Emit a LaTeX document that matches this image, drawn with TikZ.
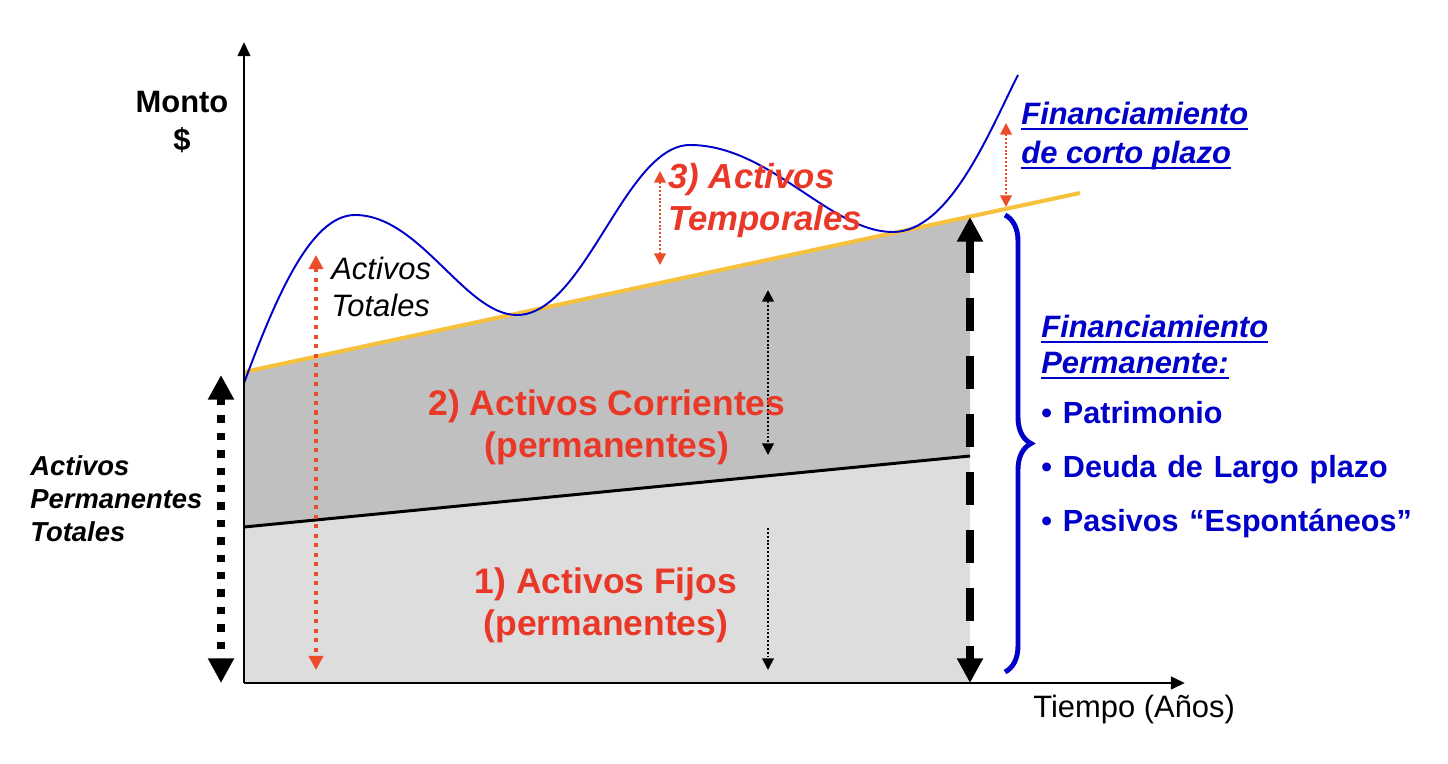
\documentclass[tikz,border=0pt]{standalone}
\usepackage{fontspec}
\setmainfont{Liberation Sans}
\usetikzlibrary{arrows.meta,decorations.pathreplacing}
\definecolor{grisosc}{RGB}{192,192,192}
\definecolor{grisclaro}{RGB}{221,221,221}
\definecolor{amarillo}{RGB}{247,192,61}
\definecolor{azul}{RGB}{0,0,200}
\definecolor{rojotxt}{RGB}{234,56,40}
\definecolor{rojoflecha}{RGB}{234,76,44}
\newcommand{\subr}[1]{\setbox0\hbox{#1}\rlap{\rule[-3.2pt]{\wd0}{1.3pt}}\box0}
\newcommand{\espacio}{\spaceskip=6.2pt plus 1pt\relax}
\begin{document}
\begin{tikzpicture}[x=0.02cm,y=-0.02cm,
  eje/.style={line width=1.7pt,-{Triangle[width=7pt,length=8pt]}},
  gruesa/.style={line width=4.3pt,{Triangle[width=14pt,length=14pt]}-{Triangle[width=14pt,length=14pt]}},
  puntos/.style={line width=2.3pt,rojoflecha,dash pattern=on 2.3pt off 3.1pt,{Triangle[width=8pt,length=8pt]}-{Triangle[width=8pt,length=8pt]}},
  finas/.style={line width=1.1pt,dash pattern=on 1.1pt off 1.1pt,{Triangle[width=6.6pt,length=6.6pt]}-{Triangle[width=6.6pt,length=6.6pt]}},
  txt/.style={inner sep=0pt},
  vineta/.style={txt,anchor=base west,azul,font=\bfseries\fontsize{17.4}{21}\selectfont,execute at begin node=\espacio}]
\useasboundingbox (0,0) rectangle (1448,764);
% zonas de activos
\coordinate (o) at (244,683);
\coordinate (fa) at (244,527);
\coordinate (fb) at (970,456);
\coordinate (ca) at (244,372);
\coordinate (cb) at (970,216);
\coordinate (xb) at (970,683);
\coordinate (ye) at (1080,193);
\fill[grisclaro] (o) -- (fa) -- (fb) -- (xb) -- cycle;
\fill[grisosc] (fa) -- (ca) -- (cb) -- (fb) -- cycle;
\draw[line width=1.7pt] (fa) -- (fb);
\draw[amarillo,line width=2.3pt] (ca) -- (ye);
% activos totales
\draw[azul,line width=1.1pt] (244,383) .. controls (275,300) and (310,215) .. (355,215)
  .. controls (420,215) and (465,315) .. (517,315)
  .. controls (585,315) and (625,145) .. (690,145)
  .. controls (770,145) and (830,232) .. (893,232)
  .. controls (950,232) and (990,130) .. (1018,75);
% ejes
\coordinate (ytop) at (244,42);
\coordinate (xend) at (1185,683);
\draw[eje] (o) -- (ytop);
\draw[eje] (o) -- (xend);
% flechas
\coordinate (apt1) at (221,375);
\coordinate (apt2) at (221,683);
\draw[gruesa,dash pattern=on 4.2pt off 5.7pt] (apt1) -- (apt2);
\coordinate (fin1) at (970,217);
\coordinate (fin2) at (970,683);
\draw[gruesa,dash pattern=on 18.8pt off 14.2pt] (fin1) -- (fin2);
\coordinate (at1) at (316,255);
\coordinate (at2) at (316,670);
\draw[puntos] (at1) -- (at2);
\coordinate (tp1) at (660,171);
\coordinate (tp2) at (660,265);
\draw[finas,rojoflecha] (tp1) -- (tp2);
\coordinate (cp1) at (1006,123);
\coordinate (cp2) at (1006,207);
\draw[finas,rojoflecha] (cp1) -- (cp2);
\coordinate (co1) at (768,290);
\coordinate (co2) at (768,455);
\draw[finas] (co1) -- (co2);
\coordinate (fi1) at (768,528);
\coordinate (fi2) at (768,670);
\draw[finas,arrows={-Triangle[width=6.6pt,length=6.6pt]}] (fi1) -- (fi2);
% llave
\coordinate (ll1) at (1005,215);
\coordinate (ll2) at (1005,672);
\draw[azul,line width=2.8pt,decorate,decoration={brace,amplitude=14.8pt}] (ll1) -- (ll2);
% textos
\node[txt,anchor=north,align=center,font=\bfseries\fontsize{17.6}{21.6}\selectfont] (monto) at (182,91) {Monto\\\$};
\node[txt,anchor=north west,align=left,font=\itshape\fontsize{17.6}{21}\selectfont] (totales) at (331,257) {Activos\\Totales};
\node[txt,anchor=north west,align=left,rojotxt,font=\bfseries\itshape\fontsize{19.8}{23.8}\selectfont] (temp) at (668,163) {3) Activos\\Temporales};
\node[txt,anchor=north,align=center,rojotxt,font=\bfseries\fontsize{20.2}{24}\selectfont] (corr) at (607,389) {2) Activos Corrientes\\(permanentes)};
\node[txt,anchor=north,align=center,rojotxt,font=\bfseries\fontsize{20.2}{24}\selectfont] (fijos) at (606,567) {1) Activos Fijos\\(permanentes)};
\node[txt,anchor=north west,align=left,font=\bfseries\itshape\fontsize{15.6}{18.8}\selectfont] (perm) at (30,455) {Activos\\Permanentes\\Totales};
\node[txt,anchor=north west,align=left,azul,font=\bfseries\itshape\fontsize{17.6}{22.2}\selectfont] (fcp) at (1021,102) {\subr{Financiamiento}\\\subr{de corto plazo}};
\node[txt,anchor=north west,align=left,azul,font=\bfseries\itshape\fontsize{17.6}{20.5}\selectfont] (fperm) at (1041,315) {\subr{Financiamiento}\\\subr{Permanente:}};
\node[vineta] (b1) at (1041,423) {\textbullet\ Patrimonio};
\node[vineta] (b2) at (1041,477) {\textbullet\ Deuda de Largo plazo};
\node[vineta] (b3) at (1041,531) {\textbullet\ Pasivos “Espontáneos”};
\node[txt,anchor=base west,font=\fontsize{17.6}{21}\selectfont] (tiempo) at (1033,717) {Tiempo (Años)};
\end{tikzpicture}
\end{document}
